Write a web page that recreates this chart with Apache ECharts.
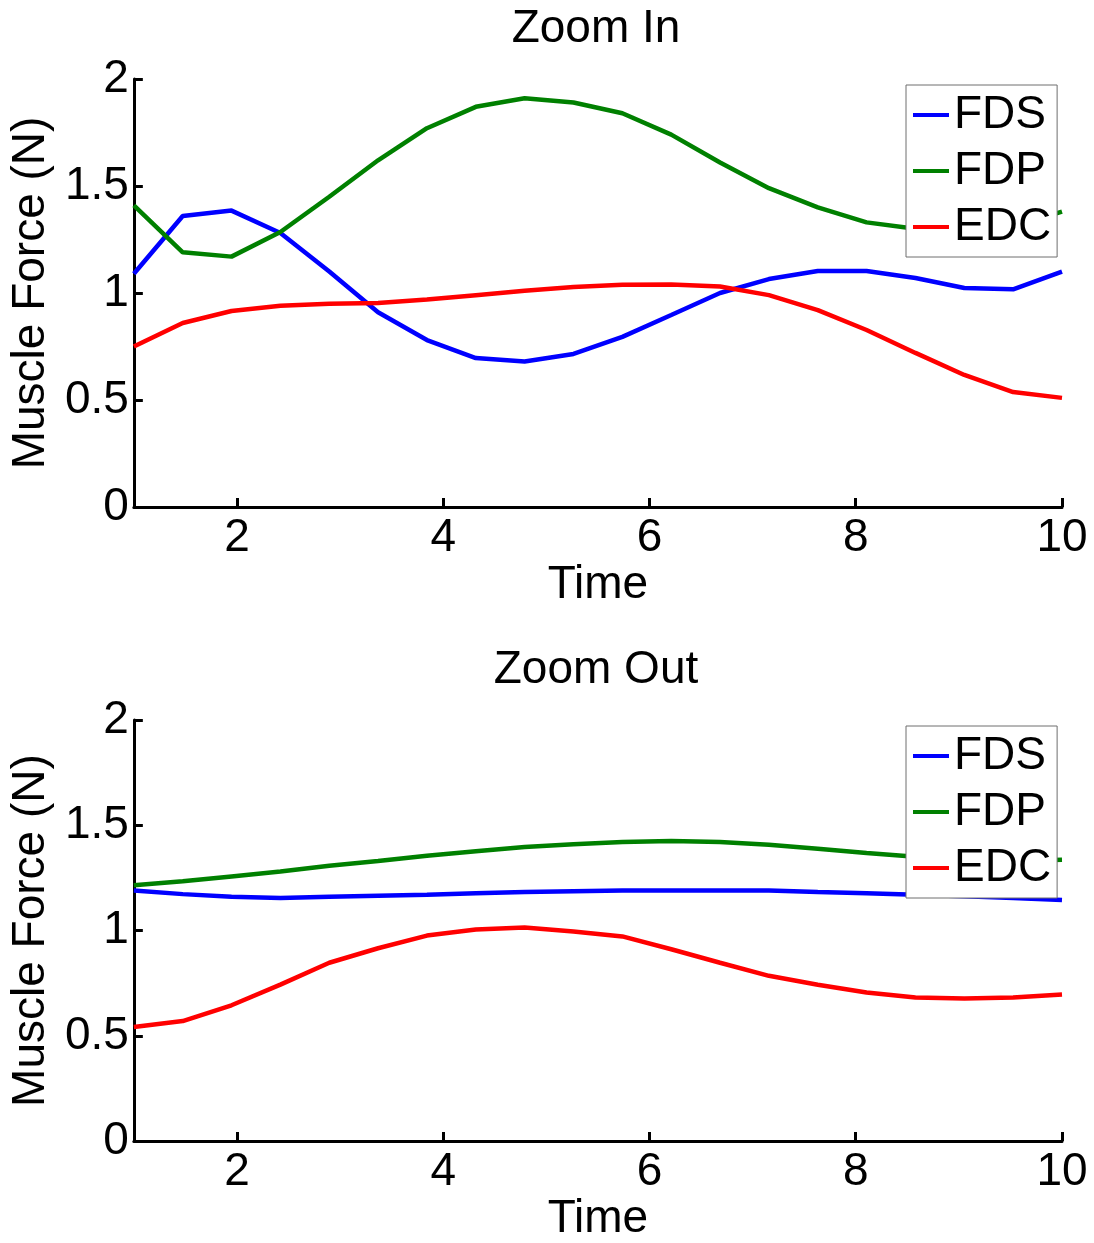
<!DOCTYPE html>
<html>
<head>
<meta charset="utf-8">
<script src="https://cdn.jsdelivr.net/npm/echarts@6/dist/echarts.min.js"></script>
<style>html,body{margin:0;padding:0;background:#fff;}#c{width:1094px;height:1243px;}</style>
</head>
<body>
<div id="c"></div>
<script>
// Sample times (20 samples from 1 to 10)
const times = [1, 1.474, 1.947, 2.421, 2.895, 3.368, 3.842, 4.316, 4.789, 5.263, 5.737, 6.211, 6.684, 7.158, 7.632, 8.105, 8.579, 9.053, 9.526, 10];

// Zoom In
const inFDS = [1.09, 1.36, 1.385, 1.28, 1.10, 0.91, 0.78, 0.696, 0.68, 0.715, 0.795, 0.897, 1.0, 1.065, 1.103, 1.103, 1.07, 1.023, 1.017, 1.10];
const inFDP = [1.41, 1.19, 1.17, 1.285, 1.45, 1.62, 1.77, 1.87, 1.91, 1.89, 1.84, 1.74, 1.61, 1.49, 1.40, 1.33, 1.30, 1.28, 1.31, 1.38];
const inEDC = [0.75, 0.86, 0.916, 0.94, 0.95, 0.953, 0.97, 0.99, 1.01, 1.028, 1.038, 1.04, 1.03, 0.99, 0.92, 0.827, 0.72, 0.617, 0.537, 0.51];

// Zoom Out
const outFDS = [1.19, 1.173, 1.16, 1.155, 1.16, 1.165, 1.17, 1.177, 1.183, 1.187, 1.19, 1.19, 1.19, 1.19, 1.183, 1.177, 1.17, 1.163, 1.155, 1.145];
const outFDP = [1.215, 1.234, 1.257, 1.28, 1.308, 1.33, 1.355, 1.377, 1.397, 1.41, 1.42, 1.425, 1.42, 1.407, 1.388, 1.368, 1.35, 1.335, 1.33, 1.336];
const outEDC = [0.542, 0.57, 0.645, 0.743, 0.847, 0.916, 0.976, 1.005, 1.014, 0.995, 0.972, 0.911, 0.847, 0.785, 0.743, 0.706, 0.682, 0.677, 0.682, 0.696];

const seriesNames = ['FDS', 'FDP', 'EDC'];
const seriesColors = ['#0000ff', '#008000', '#ff0000'];
const xTicks = [2, 4, 6, 8, 10];
const titles = ['Zoom In', 'Zoom Out'];

const FONT = '"Liberation Sans", Arial, Helvetica, sans-serif';
const pair = ys => times.map((t, i) => [t, ys[i]]);

const gridTops = [79, 720];
const panels = [[inFDS, inFDP, inEDC], [outFDS, outFDP, outEDC]];

function xAxisFor(idx) {
  return {
    type: 'value', gridIndex: idx, min: 1, max: 10,
    name: 'Time', nameLocation: 'middle', nameGap: 50,
    nameTextStyle: {fontFamily: FONT, fontSize: 46, color: '#000'},
    axisLine: {show: true, lineStyle: {color: '#000', width: 3}},
    axisTick: {show: true, inside: true, length: 9, lineStyle: {color: '#000', width: 3}, customValues: xTicks},
    axisLabel: {fontFamily: FONT, fontSize: 46, color: '#000', margin: 8, customValues: xTicks},
    splitLine: {show: false}
  };
}
function yAxisFor(idx) {
  return {
    type: 'value', gridIndex: idx, min: 0, max: 2, interval: 0.5,
    name: 'Muscle Force (N)', nameLocation: 'middle', nameGap: 72, nameRotate: 90,
    nameTextStyle: {fontFamily: FONT, fontSize: 46, color: '#000'},
    axisLine: {show: true, lineStyle: {color: '#000', width: 3}},
    axisTick: {show: true, inside: true, length: 9, lineStyle: {color: '#000', width: 3}},
    axisLabel: {fontFamily: FONT, fontSize: 46, color: '#000', margin: 5},
    splitLine: {show: false}
  };
}
function legendFor(top) {
  return {
    orient: 'vertical', left: 906, top: top,
    padding: [7, 6, 7, 7], itemGap: 10,
    itemWidth: 36, itemHeight: 4, icon: 'rect',
    backgroundColor: '#fff', borderColor: '#6e6e6e', borderWidth: 1, borderRadius: 0,
    textStyle: {fontFamily: FONT, fontSize: 46, lineHeight: 46, color: '#000'},
    data: seriesNames, selectedMode: false
  };
}

const series = [];
panels.forEach((arrs, g) => {
  arrs.forEach((ys, k) => {
    series.push({
      name: seriesNames[k], type: 'line', xAxisIndex: g, yAxisIndex: g,
      data: pair(ys), showSymbol: false, symbol: 'none', smooth: false,
      color: seriesColors[k],
      lineStyle: {color: seriesColors[k], width: 4.5},
      animation: false
    });
  });
});

const chart = echarts.init(document.getElementById('c'), null, {renderer: 'canvas'});
chart.setOption({
  backgroundColor: '#fff',
  animation: false,
  title: titles.map((t, i) => ({
    text: t, left: 596, textAlign: 'center', top: i === 0 ? 6 : 647, padding: 0,
    textStyle: {fontFamily: FONT, fontSize: 46, fontWeight: 'normal', color: '#000'}
  })),
  legend: [legendFor(85), legendFor(726)],
  grid: gridTops.map(t => ({left: 131, top: t, width: 931, height: 428, containLabel: false})),
  xAxis: [xAxisFor(0), xAxisFor(1)],
  yAxis: [yAxisFor(0), yAxisFor(1)],
  series: series
});
</script>
</body>
</html>
